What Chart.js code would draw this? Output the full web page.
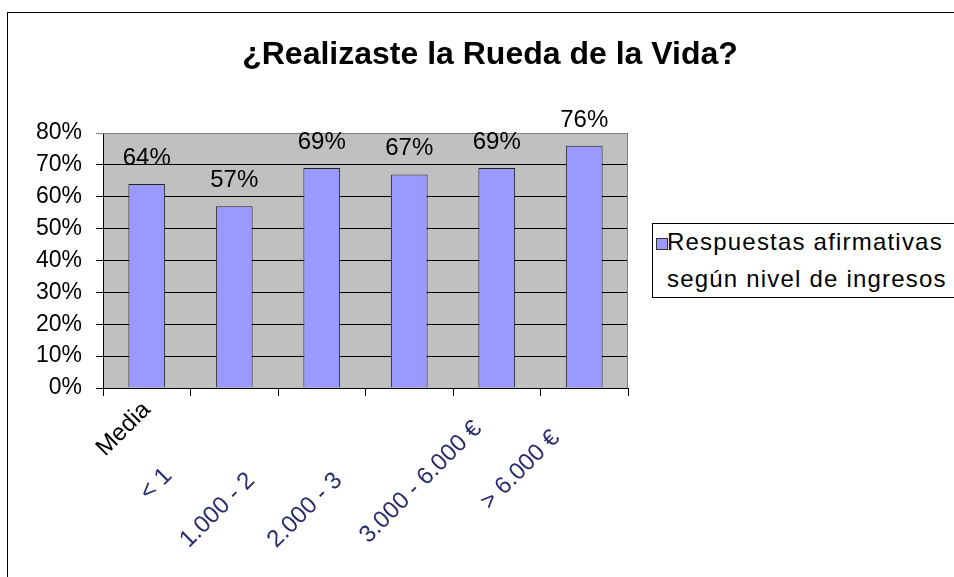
<!DOCTYPE html>
<html>
<head>
<meta charset="utf-8">
<script src="https://cdn.jsdelivr.net/npm/chart.js@4/dist/chart.umd.min.js"></script>
<style>
  html, body { margin: 0; padding: 0; background: #fff; overflow: hidden; }
  #frame { position: absolute; left: 7px; top: 12px; width: 960px; height: 580px;
           border-left: 1px solid #000; border-top: 1px solid #000; }
  #wrap { position: absolute; left: 0; top: 0; width: 954px; height: 577px; }
  #legend { position: absolute; left: 652px; top: 223px; width: 330px; height: 73px;
            border: 1px solid #000; background: #fff;
            font-family: "Liberation Sans", Arial, sans-serif; font-size: 24px; color: #000;
            letter-spacing: 1.2px; }
  #legend .sw { position: absolute; left: 3px; top: 14px; width: 10px; height: 10px;
                border: 1px solid #333; }
  #legend .l1 { position: absolute; left: 14px; top: 4px; white-space: nowrap; }
  #legend .l2 { position: absolute; left: 14px; top: 41px; white-space: nowrap; }
</style>
</head>
<body>
<div id="frame"></div>
<div id="wrap"><canvas id="c" width="954" height="577"></canvas></div>
<div id="legend"></div>
<script>
// data
const categories = ['Media', '< 1', '1.000 - 2', '2.000 - 3', '3.000 - 6.000 €', '> 6.000 €'];
const values = [64, 57, 69, 67, 69, 76];
const seriesLabel = ['Respuestas afirmativas', 'según nivel de ingresos'];
const yTicks = [0, 10, 20, 30, 40, 50, 60, 70, 80];
const titleText = '¿Realizaste la Rueda de la Vida?';

const FONT = '"Liberation Sans", Arial, sans-serif';
const BAR_FILL = '#9999ff';
// trailing blanks so the clipped labels sit where the original ones do
const labelTrail = [0, 14, 15, 15, 4, 6];

// gray plot background + gray top/right edge
const plotBg = {
  id: 'plotBg',
  beforeDraw(chart) {
    const { ctx, chartArea: a } = chart;
    ctx.save();
    ctx.fillStyle = '#c0c0c0';
    ctx.fillRect(a.left, a.top, a.right - a.left, a.bottom - a.top);
    ctx.restore();
  },
  afterDatasetsDraw(chart) {
    const { ctx, chartArea: a } = chart;
    ctx.save();
    ctx.strokeStyle = '#808080';
    ctx.lineWidth = 1;
    ctx.beginPath();
    ctx.moveTo(a.left, a.top + 0.5);
    ctx.lineTo(a.right - 0.5, a.top + 0.5);
    ctx.lineTo(a.right - 0.5, a.bottom);
    ctx.stroke();
    ctx.restore();
  }
};

// value labels above bars
const valueLabels = {
  id: 'valueLabels',
  afterDatasetsDraw(chart) {
    const { ctx } = chart;
    const meta = chart.getDatasetMeta(0);
    ctx.save();
    ctx.font = '24px ' + FONT;
    ctx.fillStyle = '#000';
    ctx.textAlign = 'center';
    ctx.textBaseline = 'alphabetic';
    meta.data.forEach((bar, i) => {
      ctx.fillText(values[i] + '%', bar.x, bar.y - 19);
    });
    ctx.restore();
  }
};

new Chart(document.getElementById('c'), {
  type: 'bar',
  data: {
    labels: categories,
    datasets: [{
      label: seriesLabel.join(' '),
      data: values,
      backgroundColor: BAR_FILL,
      borderColor: '#222',
      borderWidth: 1,
      categoryPercentage: 1,
      barPercentage: 0.42
    }]
  },
  options: {
    responsive: false,
    animation: false,
    layout: { padding: { left: 26, right: 0, top: 0, bottom: 0 } },
    plugins: {
      legend: { display: false },
      tooltip: { enabled: false },
      title: {
        display: true,
        text: titleText,
        color: '#000',
        font: { family: FONT, size: 32, weight: 'bold' },
        padding: { top: 36, bottom: 58.6 }
      }
    },
    scales: {
      x: {
        grid: { display: true, drawOnChartArea: false, color: '#000', tickLength: 8, offset: true },
        border: { color: '#000' },
        ticks: {
          autoSkip: false,
          minRotation: 45,
          maxRotation: 45,
          padding: 0,
          font: { family: FONT, size: 24 },
          color: ctx => ctx.index === 0 ? '#000' : '#2a2a6e',
          callback: (v, i) => categories[i] + ' '.repeat(labelTrail[i])
        },
        afterFit: s => { s.height = 189; }
      },
      y: {
        min: 0,
        max: 80,
        afterBuildTicks: s => { s.ticks = yTicks.map(v => ({ value: v })); },
        grid: { color: ctx => ctx.tick && ctx.tick.value === 80 ? '#808080' : '#000', tickLength: 7 },
        border: { color: '#000' },
        ticks: {
          padding: 14,
          color: '#000',
          font: { family: FONT, size: 23 },
          callback: v => v + '%'
        },
        afterFit: s => { s.width = 77; }
      },
      yR: {
        position: 'right',
        display: true,
        grid: { display: false },
        border: { display: false },
        ticks: { display: false },
        afterFit: s => { s.width = 326; }
      }
    }
  },
  plugins: [plotBg, valueLabels]
});

// legend box (two-line series name), built from the series label
const lg = document.getElementById('legend');
lg.innerHTML = '<div class="sw" style="background:' + BAR_FILL + '"></div>' +
  '<div class="l1">' + seriesLabel[0] + '</div>' +
  '<div class="l2">' + seriesLabel[1] + '</div>';
</script>
</body>
</html>
